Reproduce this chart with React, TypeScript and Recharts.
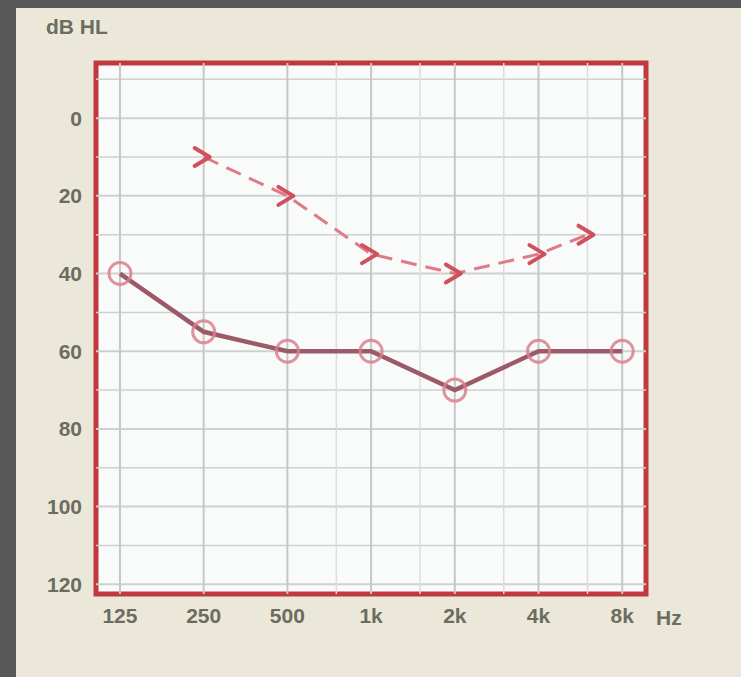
import {
  Line,
  LineChart,
  ReferenceArea,
  ReferenceLine,
  XAxis,
  YAxis,
} from "recharts";

// audiogram values (dB HL)
const airFreqs = [125, 250, 500, 1000, 2000, 4000, 8000];
const airLevels = [40, 55, 60, 60, 70, 60, 60];

const boneFreqs = [250, 500, 1000, 2000, 4000, 6000];
const boneLevels = [10, 20, 35, 40, 35, 30];

const freqTicks = [125, 250, 500, 1000, 2000, 4000, 8000];
const freqLabels = ["125", "250", "500", "1k", "2k", "4k", "8k"];
const halfOctaves = [750, 1500, 3000, 6000];
const levelTicks = [0, 20, 40, 60, 80, 100, 120];
const levelGrid = [-10, 0, 10, 20, 30, 40, 50, 60, 70, 80, 90, 100, 110, 120];

const X_DOMAIN: [number, number] = [102.5, 9740];
const Y_DOMAIN: [number, number] = [-14.2, 122.5];

const airData = airFreqs.map((freq, i) => ({ freq, level: airLevels[i] }));
const boneData = boneFreqs.map((freq, i) => ({ freq, level: boneLevels[i] }));

const labelFont = {
  fill: "#6c6c60",
  fontSize: 21,
  fontWeight: 700,
  fontFamily: "Liberation Sans, Arial, sans-serif",
};

function CircleDot(props: any) {
  const { cx, cy } = props;
  if (cx == null || cy == null) return null;
  return <circle cx={cx} cy={cy} r={11} fill="none" stroke="#d9808c" strokeWidth={3} strokeOpacity={0.85} />;
}

function ArrowDot(props: any) {
  const { cx, cy } = props;
  if (cx == null || cy == null) return null;
  return (
    <path
      d={`M${cx - 9},${cy - 9} L${cx + 6},${cy} L${cx - 9},${cy + 9}`}
      fill="none"
      stroke="#d0505e"
      strokeWidth={4}
      strokeLinejoin="round"
      strokeLinecap="round"
    />
  );
}

export default function App() {
  return (
    <div style={{ position: "relative", width: 741, height: 677, background: "#575757", overflow: "hidden" }}>
      <style>{"body{margin:0}"}</style>
      <div
        style={{
          position: "absolute",
          left: 16,
          top: 8,
          right: 0,
          bottom: 0,
          background: "#ebe8da",
        }}
      />
      <div
        style={{
          position: "absolute",
          left: 46,
          top: 15,
          fontSize: 21,
          fontWeight: 700,
          fontFamily: "Liberation Sans, Arial, sans-serif",
          color: "#6c6c60",
        }}
      >
        dB HL
      </div>
      <div style={{ position: "absolute", left: 0, top: 0 }}>
        <LineChart width={741} height={677} margin={{ top: 63, right: 95, left: 36, bottom: 43 }}>
          <ReferenceArea
            x1={X_DOMAIN[0]}
            x2={X_DOMAIN[1]}
            y1={Y_DOMAIN[0]}
            y2={Y_DOMAIN[1]}
            fill="#f9fbfb"
            fillOpacity={1}
            stroke="none"
            ifOverflow="visible"
          />
          {levelGrid.map((v) => (
            <ReferenceLine key={`h${v}`} y={v} stroke="#cfd1d1" strokeWidth={v % 20 === 0 ? 2 : 1.5} />
          ))}
          {halfOctaves.map((f) => (
            <ReferenceLine key={`vh${f}`} x={f} stroke="#dcdede" strokeWidth={1.5} />
          ))}
          {freqTicks.map((f) => (
            <ReferenceLine key={`v${f}`} x={f} stroke="#c6c8c8" strokeWidth={2} />
          ))}
          <XAxis
            dataKey="freq"
            type="number"
            scale="log"
            domain={X_DOMAIN}
            allowDataOverflow
            ticks={freqTicks}
            tickFormatter={(v: number) => freqLabels[freqTicks.indexOf(v)] ?? ""}
            tick={labelFont}
            tickLine={false}
            axisLine={false}
            tickSize={0}
            tickMargin={14}
            height={40}
            label={{ value: "Hz", position: "right", offset: 10, dy: 4, ...labelFont }}
          />
          <YAxis
            type="number"
            reversed
            domain={Y_DOMAIN}
            allowDataOverflow
            ticks={levelTicks}
            tick={{ ...labelFont, textAnchor: "end" }}
            tickLine={false}
            axisLine={false}
            tickSize={0}
            tickMargin={14}
            width={60}
          />
          <Line
            data={boneData}
            dataKey="level"
            type="linear"
            stroke="#e07a86"
            strokeWidth={3}
            strokeDasharray="16 9"
            dot={<ArrowDot />}
            activeDot={false}
            isAnimationActive={false}
          />
          <Line
            data={airData}
            dataKey="level"
            type="linear"
            stroke="#9c5a68"
            strokeWidth={4.5}
            dot={<CircleDot />}
            activeDot={false}
            isAnimationActive={false}
          />
          <ReferenceArea
            x1={X_DOMAIN[0]}
            x2={X_DOMAIN[1]}
            y1={Y_DOMAIN[0]}
            y2={Y_DOMAIN[1]}
            fill="none"
            stroke="#c2383f"
            strokeWidth={5}
            ifOverflow="visible"
          />
        </LineChart>
      </div>
    </div>
  );
}
